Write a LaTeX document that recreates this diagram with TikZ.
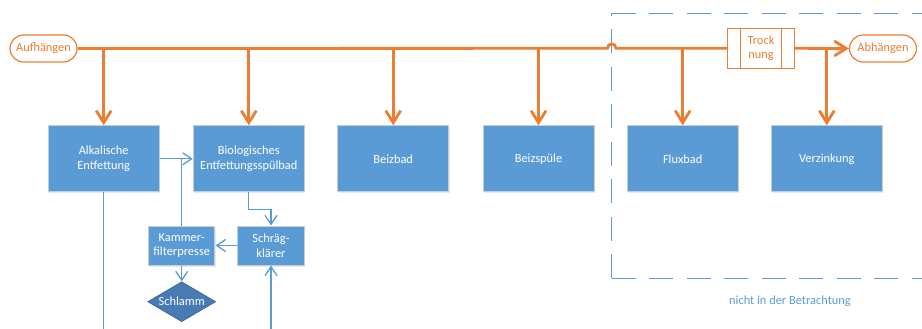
\documentclass[tikz,border=0pt]{standalone}
\usepackage{fontspec}
\setmainfont{Carlito}
\usetikzlibrary{arrows.meta,shapes.geometric,shadows}
\definecolor{procorange}{HTML}{ED7D31}
\definecolor{procblue}{HTML}{5B9BD5}
\definecolor{sludgeblue}{RGB}{72,122,180}
\definecolor{boxedge}{RGB}{196,204,214}
\tikzset{
  txt/.style={font=\fontsize{12.4}{14.6}\selectfont, align=center},
  bath/.style={txt, rectangle, fill=procblue, draw=boxedge, line width=1pt,
    text=white, minimum width=111pt, minimum height=66pt, inner sep=0pt,
    drop shadow={shadow xshift=1pt, shadow yshift=-1.5pt, opacity=0.18, fill=gray}},
  smallbox/.style={bath, minimum width=66.5pt, minimum height=39pt},
  terminal/.style={txt, rectangle, rounded corners=13.5pt, draw=procorange,
    line width=1.2pt, text=procorange, fill=white, minimum width=67pt,
    minimum height=27pt, inner sep=0pt},
  dryer/.style={txt, rectangle, draw=procorange, line width=1.2pt,
    text=procorange, fill=white, minimum width=66.5pt, minimum height=40pt,
    inner sep=0pt},
  sludge/.style={txt, diamond, aspect=1.7, fill=sludgeblue, draw=sludgeblue!80!black,
    line width=0.6pt, text=white, minimum width=68pt, minimum height=40pt, inner sep=0pt},
  conveyor/.style={draw=procorange, line width=2.8pt},
  conveyorarrow/.style={conveyor, -{Straight Barb[length=12pt, width=15pt]}},
  flow/.style={draw=procblue, line width=1.3pt},
  flowarrow/.style={flow, -{Straight Barb[length=9pt, width=12pt]}},
  scopeframe/.style={draw=procblue, line width=1.4pt, dash pattern=on 24pt off 13.5pt}
}
\begin{document}
\begin{tikzpicture}[x=1pt, y=-1pt]
\useasboundingbox (0,0) rectangle (922,329);

% frame around the part of the line that is not considered
\coordinate (fbl) at (611.7,278.3);
\coordinate (ftl) at (611.7,13.5);
\draw[scopeframe] (fbl) -- (ftl);
\draw[scopeframe] (ftl) -- (935,13.5);
\draw[scopeframe] (fbl) -- (935,278.3);
\node[txt, text=procblue] (note) at (790,301.7) {nicht in der Betrachtung};

% start, drying and end of the hanging line
\node[terminal] (auf) at (43.5,48.5) {Aufhängen};
\node[dryer] (trock) at (761,48.3) {Trock\\nung};
\draw[procorange, line width=1.2pt]
  ([xshift=13.3pt]trock.north west) -- ([xshift=13.3pt]trock.south west)
  ([xshift=-13pt]trock.north east) -- ([xshift=-13pt]trock.south east);
\node[terminal] (abh) at (883,48.5) {Abhängen};

% process baths
\node[bath] (alk)  at (103.7,158.8) {Alkalische\\Entfettung};
\node[bath] (bio)  at (248.8,158.8) {Biologisches\\Entfettungsspülbad};
\node[bath] (beiz) at (393.2,158.8) {Beizbad};
\node[bath] (spuel) at (538.5,158.8) {Beizspüle};
\node[bath] (flux) at (682.7,158.8) {Fluxbad};
\node[bath] (verz) at (826.8,158.8) {Verzinkung};

% water treatment
\node[smallbox] (schr) at (271,245.5) {Schräg-\\klärer};
\node[smallbox] (kam)  at (181.7,245.5) {Kammer-\\filterpresse};
\node[sludge] (schl) at (181.7,301.7) {Schlamm};

% conveyor line with a hop over the frame
\draw[conveyor] (auf.east) -- (607.5,48.3)
  .. controls (607.5,42.5) and (616,42.5) .. (616,48.3) -- (trock.west);
\draw[conveyorarrow] (trock.east) -- (abh.west);
\foreach \b in {alk,bio,beiz,spuel,flux,verz}
  \draw[conveyorarrow] (\b.north |- auf.east) -- (\b.north);

% water flows
\coordinate (alkout) at (103.7,335);
\coordinate (schrin) at (271,335);
\draw[flowarrow] (alk) -- (bio);
\draw[flow] (kam.north) -- (kam.north |- alk.east);
\draw[flowarrow] (bio.south) -- ++(0,17) -| (schr.north);
\draw[flowarrow] (schr) -- (kam);
\draw[flowarrow] (kam.south) -- (schl.north);
\draw[flow] (alk.south) -- (alkout);
\draw[flowarrow] (schrin) -- (schr.south);
\end{tikzpicture}
\end{document}
